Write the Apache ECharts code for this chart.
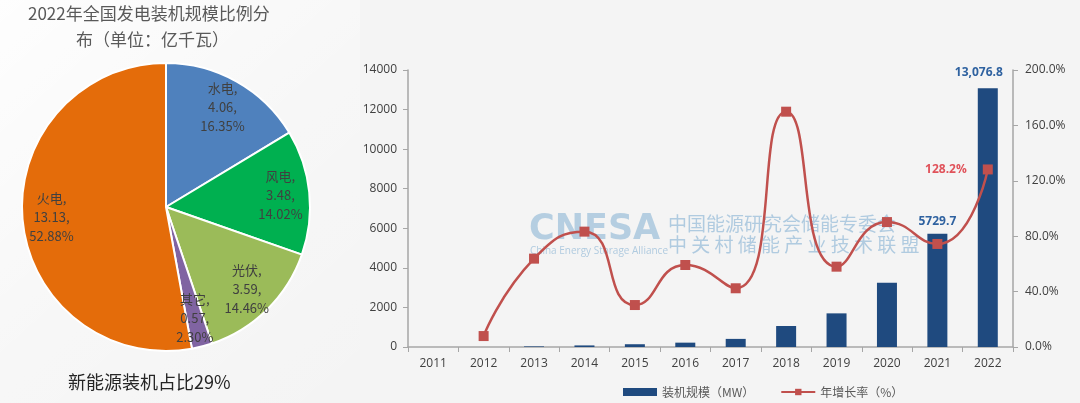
<!DOCTYPE html>
<html>
<head>
<meta charset="utf-8">
<style>
html,body{margin:0;padding:0;background:#f4f4f4;}
#c{width:1080px;height:403px;}
</style>
<script src="https://cdn.jsdelivr.net/npm/echarts@6/dist/echarts.min.js"></script>
</head>
<body>
<div id="c"></div>
<script>
// ---- data ----
var pieNames = ['水电', '风电', '光伏', '其它', '火电'];
var pieValues = [4.06, 3.48, 3.59, 0.57, 13.13];
var piePercents = ['16.35%', '14.02%', '14.46%', '2.30%', '52.88%'];
var pieColors = ['#4f81bd', '#00b050', '#9bbb59', '#8064a2', '#e46c0a'];

var years = ['2011', '2012', '2013', '2014', '2015', '2016', '2017', '2018', '2019', '2020', '2021', '2022'];
var capacityMW = [null, null, 30, 80, 140, 220, 410, 1060, 1700, 3250, 5729.7, 13076.8];
var growthPct = [null, 7.9, 63.8, 83.3, 30.3, 59.2, 42.4, 169.9, 58.0, 90.2, 74.4, 128.2];
var leftTicks = [0, 2000, 4000, 6000, 8000, 10000, 12000, 14000];
var rightTicks = [0, 40, 80, 120, 160, 200];

var FONT = '"Noto Sans CJK SC", "Noto Sans", sans-serif';
var NUMFONT = '"Open Sans", "Noto Sans", sans-serif';

var pieData = pieNames.map(function (n, i) {
  return { name: n, value: pieValues[i], pct: piePercents[i], itemStyle: { color: pieColors[i] } };
});
var pieLabelData = pieNames.map(function (n, i) {
  return { name: n, value: pieValues[i], pct: piePercents[i] };
});

var labelledBars = { '2021': true, '2022': true };
var barData = capacityMW.map(function (v, i) {
  if (labelledBars[years[i]]) {
    return { value: v, label: { show: true, offset: v >= 10000 ? [-9, -4] : [0, 0] } };
  }
  return v;
});
var lineData = growthPct.map(function (v, i) {
  if (years[i] === '2022') return { value: v, label: { show: true } };
  return v;
});

var chart = echarts.init(document.getElementById('c'), null, { renderer: 'canvas' });
var option = {
  backgroundColor: '#f4f4f4',
  animation: false,
  graphic: [
    { type: 'rect', z: -10, shape: { x: 0, y: 0, width: 360, height: 403 },
      style: { fill: new echarts.graphic.LinearGradient(0, 0, 1, 1, [
        { offset: 0, color: 'rgba(255,255,255,0.9)' },
        { offset: 0.5, color: 'rgba(255,255,255,0.3)' },
        { offset: 1, color: 'rgba(255,255,255,0)' }]) } },
    { type: 'text', left: 28, top: 5, style: { text: '2022年全国发电装机规模比例分', font: '17px ' + FONT, fill: '#595959' } },
    { type: 'text', left: 76, top: 31, style: { text: '布（单位：亿千瓦）', font: '17px ' + FONT, fill: '#595959' } },
    { type: 'text', left: 68, top: 373, style: { text: '新能源装机占比29%', font: '18px ' + FONT, fill: '#262626' } },
    // watermark
    { type: 'text', left: 529, top: 212, z: 0, style: { text: 'CNESA', font: 'bold 35px "DejaVu Sans", sans-serif', fill: 'rgba(130,175,210,0.55)' } },
    { type: 'text', left: 530, top: 246, z: 0, style: { text: 'China Energy Storage Alliance', font: '10px ' + NUMFONT, fill: 'rgba(130,175,210,0.6)' } },
    { type: 'text', left: 668, top: 214, z: 0, style: { text: '中国能源研究会储能专委会', font: '19px ' + FONT, fill: 'rgba(130,175,210,0.6)' } },
    { type: 'text', left: 668, top: 235, z: 0, style: { text: '中 关 村 储 能 产 业 技 术 联 盟', font: '19px ' + FONT, fill: 'rgba(130,175,210,0.6)' } }
  ],
  legend: {
    left: 618, top: 381,
    itemWidth: 34, itemHeight: 8, itemGap: 26,
    textStyle: { fontFamily: FONT, fontSize: 12, color: '#595959' },
    data: [
      { name: '装机规模（MW）', icon: 'rect' },
      { name: '年增长率（%）' }
    ]
  },
  grid: { left: 408, right: 67, top: 70, bottom: 56 },
  xAxis: {
    type: 'category', data: years, boundaryGap: true,
    axisLine: { lineStyle: { color: '#a6a6a6', width: 1.5 } },
    axisTick: { show: true, alignWithLabel: false, length: 5, lineStyle: { color: '#a6a6a6' } },
    axisLabel: { fontFamily: NUMFONT, fontSize: 12, color: '#404040', margin: 11 }
  },
  yAxis: [
    { type: 'value', min: leftTicks[0], max: leftTicks[leftTicks.length - 1], interval: leftTicks[1] - leftTicks[0],
      axisLine: { show: true, lineStyle: { color: '#a6a6a6', width: 1.5 } },
      axisTick: { show: true, length: 5, lineStyle: { color: '#a6a6a6' } },
      splitLine: { show: false },
      axisLabel: { fontFamily: NUMFONT, fontSize: 12, color: '#404040', margin: 11,
        formatter: function (v) { return String(v); } } },
    { type: 'value', min: rightTicks[0], max: rightTicks[rightTicks.length - 1], interval: rightTicks[1] - rightTicks[0],
      position: 'right',
      axisLine: { show: true, lineStyle: { color: '#a6a6a6', width: 1.5 } },
      axisTick: { show: true, length: 5, lineStyle: { color: '#a6a6a6' } },
      splitLine: { show: false },
      axisLabel: { fontFamily: NUMFONT, fontSize: 12, color: '#404040', margin: 12,
        formatter: function (v) { return v.toFixed(1) + '%'; } } }
  ],
  series: [
    {
      type: 'pie', center: [166, 207], radius: [0, 144], startAngle: 90, clockwise: true,
      data: pieData, silent: true,
      itemStyle: { borderColor: '#ffffff', borderWidth: 2 },
      label: { show: false }, labelLine: { show: false },
      emphasis: { disabled: true }
    },
    {
      type: 'pie', center: [166, 207], radius: [80, 144], startAngle: 90, clockwise: true,
      data: pieLabelData, silent: true,
      itemStyle: { color: 'rgba(0,0,0,0)', borderWidth: 0 },
      label: { show: true, position: 'inside', color: '#404040', fontFamily: FONT, fontSize: 13, lineHeight: 19,
        formatter: function (p) { return p.name + ',\n' + p.value + ',\n' + p.data.pct; } },
      labelLine: { show: false },
      emphasis: { disabled: true }
    },
    {
      name: '装机规模（MW）', type: 'bar', yAxisIndex: 0, data: barData, barWidth: 20,
      itemStyle: { color: '#1f4a7f' },
      label: { show: false, position: 'top', distance: 6, color: '#2f62a0', fontWeight: 'bold', fontFamily: NUMFONT, fontSize: 12,
        formatter: function (p) {
          return p.value >= 10000 ? p.value.toLocaleString('en-US', { minimumFractionDigits: 1 }) : String(p.value);
        } }
    },
    {
      name: '年增长率（%）', type: 'line', yAxisIndex: 1, data: lineData, smooth: 0.55,
      symbol: 'rect', symbolSize: 10, z: 5,
      lineStyle: { color: '#c0504d', width: 2.5 },
      itemStyle: { color: '#c0504d' },
      label: { show: false, position: 'left', distance: 16, color: '#e0525a', fontWeight: 'bold', fontFamily: NUMFONT, fontSize: 12,
        formatter: function (p) { return p.value.toFixed(1) + '%'; } }
    }
  ]
};
chart.setOption(option);
</script>
</body>
</html>
